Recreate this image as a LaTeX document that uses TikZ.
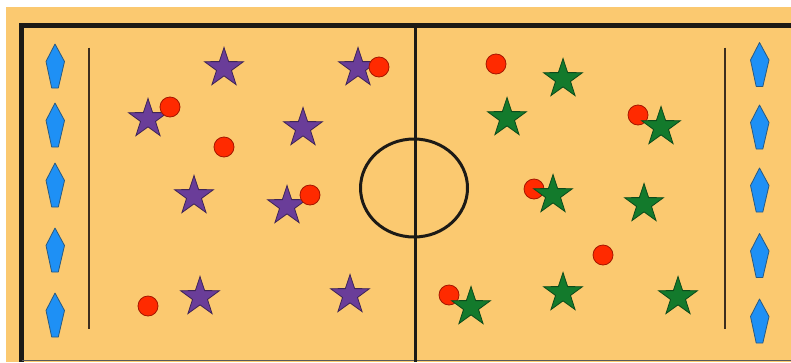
\documentclass[tikz,border=0pt]{standalone}
\usetikzlibrary{shapes.geometric}
\definecolor{court}{HTML}{FBC970}
\definecolor{lineblack}{HTML}{1C1A16}
\definecolor{purplefill}{HTML}{6A3D99}
\definecolor{purpleedge}{HTML}{3E2456}
\definecolor{greenfill}{HTML}{137A2C}
\definecolor{greenedge}{HTML}{0C4A1A}
\definecolor{ballfill}{HTML}{FF2A00}
\definecolor{balledge}{HTML}{A51500}
\definecolor{conefill}{HTML}{1E90F5}
\definecolor{coneedge}{HTML}{2A5A80}
\begin{document}
\begin{tikzpicture}[x=1pt, y=-1pt,
    border/.style={lineblack, line width=4.5pt},
    halfway/.style={lineblack, line width=3pt},
    endline/.style={lineblack!80!brown, line width=2pt},
    purplestar/.style={star, star points=5, star point ratio=2.6, minimum size=41pt, inner sep=0pt,
      fill=purplefill, draw=purpleedge, line width=0.8pt},
    greenstar/.style={purplestar, fill=greenfill, draw=greenedge},
    ball/.style={circle, minimum size=20pt, inner sep=0pt, fill=ballfill, draw=balledge, line width=0.8pt},
    cone/.pic={\draw[fill=conefill, draw=coneedge, line width=0.8pt, line join=round]
      (0,-22) -- (9.5,-4.5) -- (3.3,22) -- (-3.3,22) -- (-9,-4.5) -- cycle;}
  ]
  \useasboundingbox (0,0) rectangle (791,362);
  \fill[white] (0,0) rectangle (791,362);
  \fill[court] (6,7) rectangle (791,362);
  % court lines
  \draw[border] (791,25.5) -- (21.5,25.5) -- (21.5,362);
  \draw[gray!70!black, line width=1.2pt] (21.5,360.8) -- (791,360.8);
  \draw[halfway] (415,25.5) -- (415,362);
  \draw[halfway] (414,188) ellipse [x radius=53.5, y radius=49];
  \draw[endline] (88.7,47.7) -- (88.7,329);
  \draw[endline] (725,47.7) -- (725,329);
  % goal cones
  \foreach \y [count=\i] in {66,125,185,250,315}
    \pic (cl\i) at (55,\y) {cone};
  \foreach \y [count=\i] in {64.5,127,190,255.5,321}
    \pic (cr\i) at (759.5,\y) {cone};
  % purple team, balls on top
  \foreach \x/\y [count=\i] in {224/68,148/119,358/68,303/128,194/196,287/206,200/297,350/295}
    \node[purplestar] (p\i) at (\x,\y) {};
  \foreach \x/\y [count=\i] in {170/107,224/147,379/67,310/195,148/306}
    \node[ball] (bl\i) at (\x,\y) {};
  % green team, balls below
  \foreach \x/\y [count=\i] in {496/64,638/115,534/189,603/255,449/295}
    \node[ball] (br\i) at (\x,\y) {};
  \foreach \x/\y [count=\i] in {563/79,507/118,661/127,553/195,644/204,471/307,563/293,678/297}
    \node[greenstar] (g\i) at (\x,\y) {};
\end{tikzpicture}
\end{document}
